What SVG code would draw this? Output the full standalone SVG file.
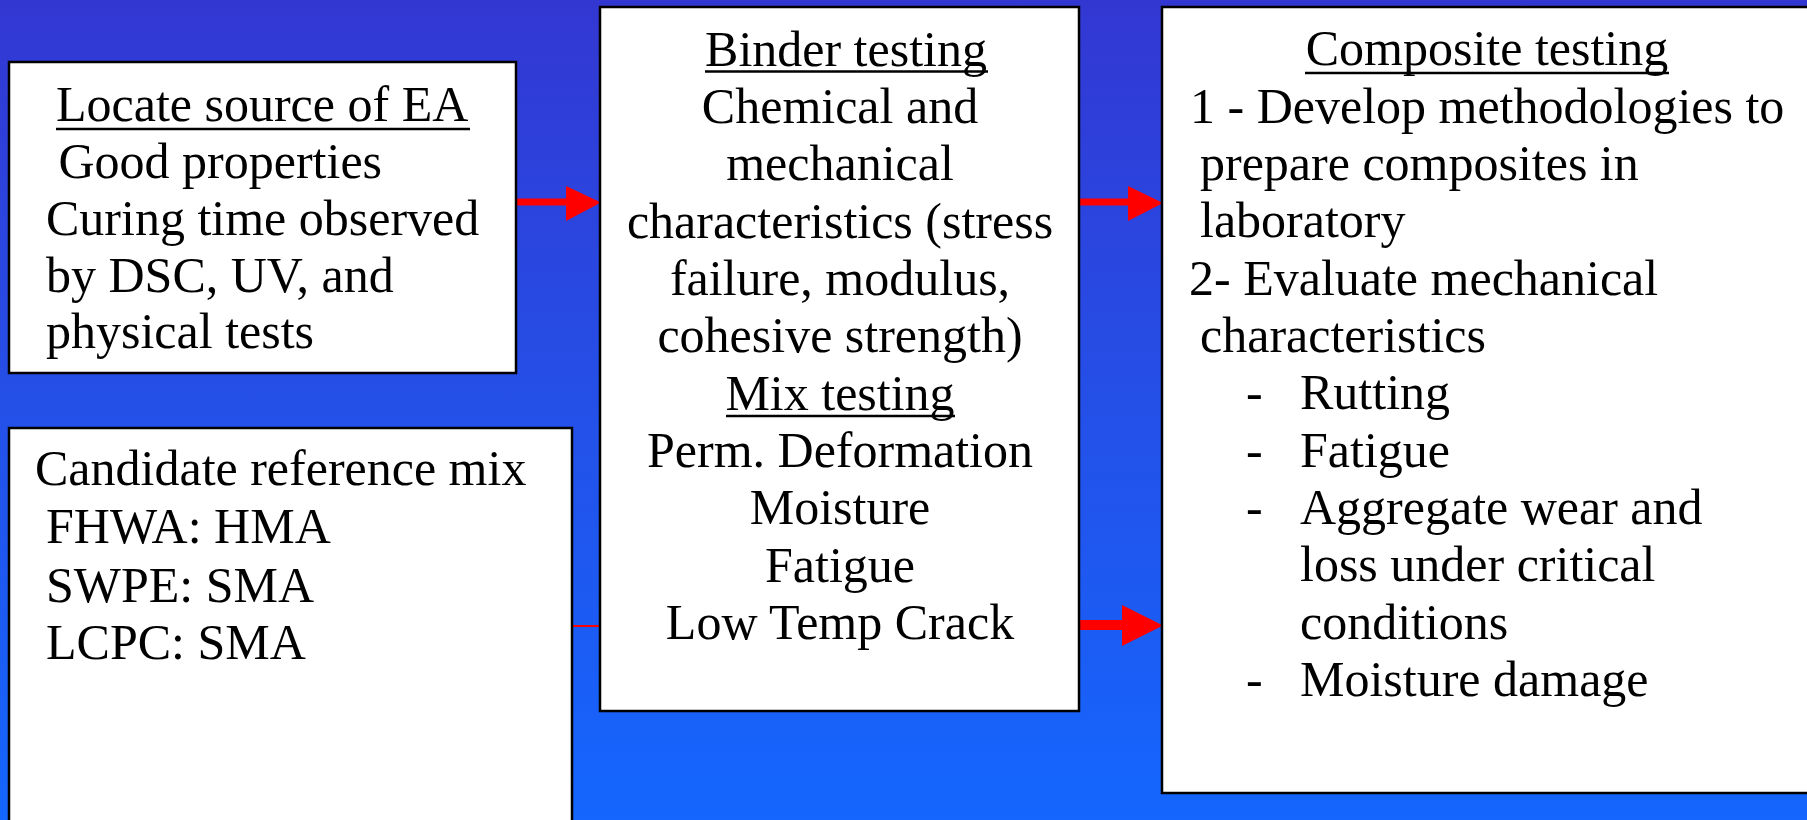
<svg xmlns="http://www.w3.org/2000/svg" width="1807" height="820" viewBox="0 0 1807 820">
  <defs>
    <linearGradient id="bg" x1="0" y1="0" x2="0" y2="1">
      <stop offset="0" stop-color="#3337d2"/>
      <stop offset="0.5" stop-color="#2450e8"/>
      <stop offset="1" stop-color="#1466fe"/>
    </linearGradient>
    <style>
      .box { fill: #ffffff; stroke: #000000; stroke-width: 2.5; }
      .t { font-family: "Liberation Serif", "Times New Roman", serif; font-size: 50px; fill: #000000; }
      .c { text-anchor: middle; }
      .ul { stroke: #000000; stroke-width: 2.5; }
      .arrow { fill: #ff0000; }
      .thin { stroke: #ff0000; stroke-width: 2; }
    </style>
  </defs>
  <rect x="0" y="0" width="1807" height="820" fill="url(#bg)"/>

  <g id="connectors">
    <rect class="arrow" x="516" y="198.5" width="52" height="7"/>
    <polygon class="arrow" points="566,186 601,202.5 566,221"/>
    <rect class="arrow" x="1079" y="198.5" width="51" height="7"/>
    <polygon class="arrow" points="1128,186 1163,203 1128,221"/>
    <rect class="arrow" x="1079" y="620" width="45" height="10"/>
    <polygon class="arrow" points="1122,605 1163,625.5 1122,646"/>
    <line class="thin" x1="572" y1="626" x2="600" y2="626"/>
  </g>

  <g id="node-locate">
    <rect class="box" x="9" y="62" width="507" height="311"/>
    <text class="t" x="56" y="121">Locate source of EA</text>
    <line class="ul" x1="56" y1="129" x2="470" y2="129"/>
    <text class="t" x="46" y="178" xml:space="preserve"> Good properties</text>
    <text class="t" x="46" y="235">Curing time observed</text>
    <text class="t" x="46" y="292">by DSC, UV, and</text>
    <text class="t" x="46" y="348">physical tests</text>
  </g>

  <g id="node-candidate">
    <rect class="box" x="9" y="428" width="563" height="410"/>
    <text class="t" x="35" y="485">Candidate reference mix</text>
    <text class="t" x="46" y="543">FHWA: HMA</text>
    <text class="t" x="46" y="602">SWPE: SMA</text>
    <text class="t" x="46" y="659">LCPC: SMA</text>
  </g>

  <g id="node-binder">
    <rect class="box" x="600" y="7" width="479" height="704"/>
    <text class="t c" x="846" y="66">Binder testing</text>
    <line class="ul" x1="705" y1="71.5" x2="988" y2="71.5"/>
    <text class="t c" x="840" y="123">Chemical and</text>
    <text class="t c" x="840" y="180">mechanical</text>
    <text class="t c" x="840" y="238">characteristics (stress</text>
    <text class="t c" x="840" y="295">failure, modulus,</text>
    <text class="t c" x="840" y="352">cohesive strength)</text>
    <text class="t c" x="840" y="410">Mix testing</text>
    <line class="ul" x1="726" y1="416" x2="955" y2="416"/>
    <text class="t c" x="840" y="467">Perm. Deformation</text>
    <text class="t c" x="840" y="524">Moisture</text>
    <text class="t c" x="840" y="582">Fatigue</text>
    <text class="t c" x="840" y="639">Low Temp Crack</text>
  </g>

  <g id="node-composite">
    <rect class="box" x="1162" y="7" width="660" height="786"/>
    <text class="t c" x="1487" y="65">Composite testing</text>
    <line class="ul" x1="1305" y1="73" x2="1669" y2="73"/>
    <text class="t" x="1190" y="123">1 - Develop methodologies to</text>
    <text class="t" x="1200" y="180">prepare composites in</text>
    <text class="t" x="1200" y="237">laboratory</text>
    <text class="t" x="1189" y="295">2- Evaluate mechanical</text>
    <text class="t" x="1200" y="352">characteristics</text>
    <text class="t" x="1246" y="409">-</text>
    <text class="t" x="1300" y="409">Rutting</text>
    <text class="t" x="1246" y="467">-</text>
    <text class="t" x="1300" y="467">Fatigue</text>
    <text class="t" x="1246" y="524">-</text>
    <text class="t" x="1300" y="524">Aggregate wear and</text>
    <text class="t" x="1300" y="581">loss under critical</text>
    <text class="t" x="1300" y="639">conditions</text>
    <text class="t" x="1246" y="696">-</text>
    <text class="t" x="1300" y="696">Moisture damage</text>
  </g>
</svg>
